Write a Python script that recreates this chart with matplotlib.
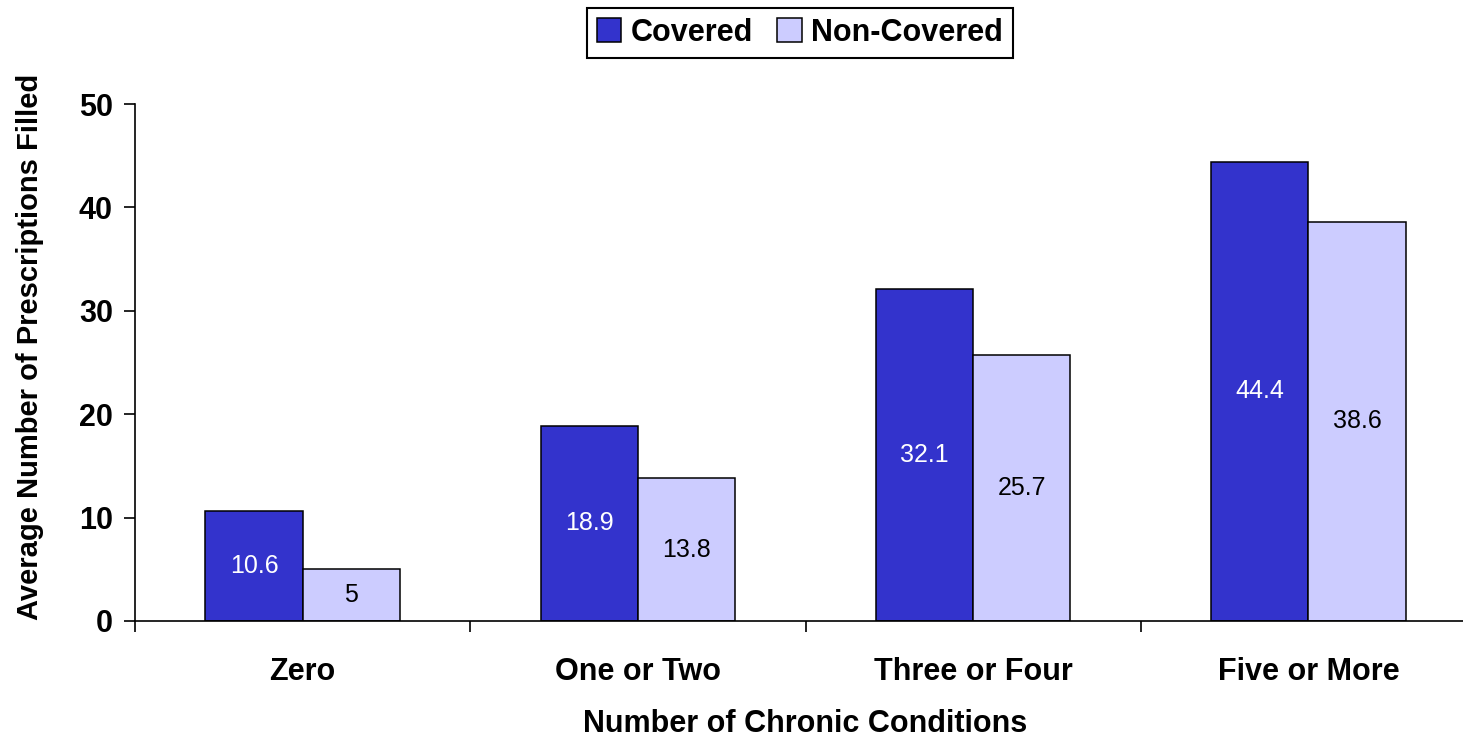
import numpy as np
import matplotlib.pyplot as plt

plt.rcParams['font.family'] = ['Liberation Sans', 'DejaVu Sans']

# average prescriptions filled by number of chronic conditions
categories = ['Zero', 'One or Two', 'Three or Four', 'Five or More']
covered = [10.6, 18.9, 32.1, 44.4]
non_covered = [5, 13.8, 25.7, 38.6]

fig = plt.figure(figsize=(14.63, 7.4), dpi=100)
ax = fig.add_axes([135 / 1463, 119 / 740, 1341 / 1463, 517 / 740])

x = np.arange(len(categories))
w = 0.29
b1 = ax.bar(x - w / 2, covered, w, color='#3333CC', edgecolor='black', linewidth=1.1, label='Covered')
b2 = ax.bar(x + w / 2, non_covered, w, color='#CCCCFF', edgecolor='black', linewidth=1.1, label='Non-Covered')

# value labels at mid-height of each bar
for xi, v in zip(x - w / 2, covered):
    ax.text(xi, v / 2, f'{v:g}', ha='center', va='center', color='white', fontsize=18)
for xi, v in zip(x + w / 2, non_covered):
    ax.text(xi, v / 2, f'{v:g}', ha='center', va='center', color='black', fontsize=18)

ax.set_xlim(-0.5, len(categories) - 0.5)
ax.set_ylim(0, 50)
ax.set_yticks(range(0, 51, 10))
ax.set_xticks(np.arange(len(categories) + 1) - 0.5)
ax.set_xticklabels([])
ax.set_xticks(x, minor=True)
ax.set_xticklabels(categories, minor=True, fontsize=22, fontweight='bold')
ax.tick_params(axis='x', which='minor', length=0, pad=26)
ax.tick_params(axis='x', which='major', length=8, width=1.2, direction='out')
ax.tick_params(axis='y', length=8, width=1.2, direction='out', labelsize=22, pad=8)
for lbl in ax.get_yticklabels():
    lbl.set_fontweight('bold')

for s in ['top', 'right']:
    ax.spines[s].set_visible(False)
for s in ['left', 'bottom']:
    ax.spines[s].set_linewidth(1.2)

ax.set_xlabel('Number of Chronic Conditions', fontsize=22, fontweight='bold', labelpad=16)
ax.set_ylabel('Average Number of Prescriptions Filled', fontsize=21, fontweight='bold')
ax.yaxis.set_label_coords(-0.068, 0.53)

leg = fig.legend(handles=[b1, b2], loc='upper center', bbox_to_anchor=(800 / 1463, 1 - 8 / 740), ncol=2,
                 fancybox=False, edgecolor='black', prop={'size': 22, 'weight': 'bold'},
                 handlelength=0.8, handleheight=0.8, handletextpad=0.3, columnspacing=0.8,
                 borderpad=0.32, borderaxespad=0, framealpha=1)
leg.get_frame().set_linewidth(1.5)

fig.savefig('out.png', dpi=100)
